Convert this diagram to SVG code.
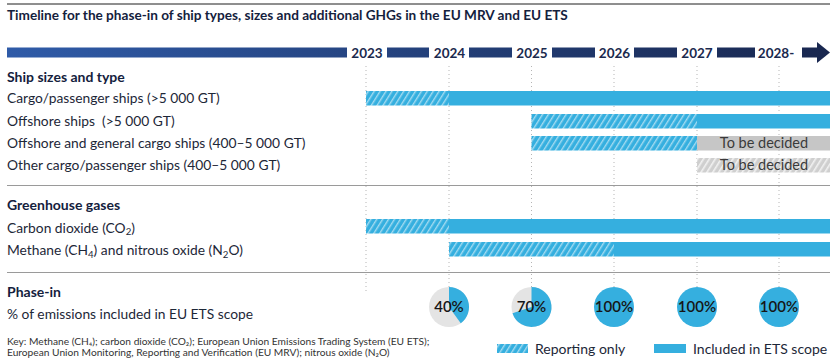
<svg xmlns="http://www.w3.org/2000/svg" width="838" height="363" viewBox="0 0 838 363">
<defs>
<linearGradient id="tl" gradientUnits="userSpaceOnUse" x1="7" y1="0" x2="830" y2="0">
<stop offset="0" stop-color="#2f5ba8"/>
<stop offset="1" stop-color="#19274f"/>
</linearGradient>
<pattern id="hb" patternUnits="userSpaceOnUse" width="5" height="10" patternTransform="rotate(32)">
<rect width="5" height="10" fill="#35afdf"/>
<rect x="0" y="0" width="1.4" height="10" fill="#ffffff" fill-opacity="0.55"/>
</pattern>
<pattern id="hg" patternUnits="userSpaceOnUse" width="5" height="10" patternTransform="rotate(32)">
<rect width="5" height="10" fill="#cfcfcf"/>
<rect x="0" y="0" width="1.6" height="10" fill="#ffffff" fill-opacity="0.7"/>
</pattern>
<style>
.t{font-family:Lato,"Liberation Sans",sans-serif;fill:#1d2738}
.h{font-family:Lato,"Liberation Sans",sans-serif;font-weight:700;fill:#14213d;font-size:14px}
.title{font-size:13.6px}
.lbl{font-size:13.8px}
.yr{font-family:Lato,"Liberation Sans",sans-serif;font-weight:700;font-size:13.5px;fill:#1b2a4e;text-anchor:middle}
.grid{stroke:#b5b5b5;stroke-width:1;stroke-dasharray:1 3}
.sep{stroke:#9a9a9a;stroke-width:1}
.solid{fill:#35afdf}
.hatch{fill:url(#hb)}
.tbd{font-family:Lato,"Liberation Sans",sans-serif;font-size:14.5px;fill:#3a3a3a;text-anchor:middle}
.pct{font-family:Lato,"Liberation Sans",sans-serif;font-size:15px;font-weight:600;fill:#161616;text-anchor:middle}
.key{font-family:Lato,"DejaVu Sans",sans-serif;font-size:10.2px;fill:#333}
.leg{font-size:14px}
.sub{font-size:70%}
</style>
</defs>

<line x1="7" y1="4" x2="830" y2="4" stroke="#1e1e1e" stroke-width="1"/>
<text class="h title" x="7" y="20">Timeline for the phase-in of ship types, sizes and additional GHGs in the EU MRV and EU ETS</text>

<g id="timeline">
<g fill="url(#tl)">
<rect x="7" y="47.5" width="340" height="10"/>
<rect x="387" y="47.5" width="42" height="10"/>
<rect x="469" y="47.5" width="43" height="10"/>
<rect x="552" y="47.5" width="43" height="10"/>
<rect x="634" y="47.5" width="43" height="10"/>
<rect x="717" y="47.5" width="38" height="10"/>
<rect x="802" y="47.5" width="16" height="10"/>
<polygon points="817,42 830,52.5 817,63"/>
</g>
<text class="yr" x="367" y="57.5">2023</text>
<text class="yr" x="449.5" y="57.5">2024</text>
<text class="yr" x="532" y="57.5">2025</text>
<text class="yr" x="614.5" y="57.5">2026</text>
<text class="yr" x="697" y="57.5">2027</text>
<text class="yr" x="776" y="57.5">2028-</text>
</g>

<g id="grid">
<line class="grid" x1="366" y1="66" x2="366" y2="294"/>
<line class="grid" x1="449" y1="66" x2="449" y2="287"/>
<line class="grid" x1="531.5" y1="66" x2="531.5" y2="287"/>
<line class="grid" x1="614" y1="66" x2="614" y2="287"/>
<line class="grid" x1="697" y1="66" x2="697" y2="287"/>
<line class="grid" x1="779" y1="66" x2="779" y2="287"/>
</g>

<g id="separators">
<line class="sep" x1="7" y1="185.5" x2="830" y2="185.5"/>
<line class="sep" x1="7" y1="272.5" x2="830" y2="272.5"/>
</g>

<g id="ship-sizes">
<text class="h" x="7" y="81.5">Ship sizes and type</text>
<g id="row-cargo-large">
<text class="t lbl" x="7" y="103.3">Cargo/passenger ships (&gt;5 000 GT)</text>
<rect class="hatch" x="366" y="91" width="83" height="14.5"/>
<rect class="solid" x="449" y="91" width="381" height="14.5"/>
</g>
<g id="row-offshore-large">
<text class="t lbl" x="7" y="125.5">Offshore ships &#160;(&gt;5 000 GT)</text>
<rect class="hatch" x="531.5" y="114" width="165.5" height="14.5"/>
<rect class="solid" x="697" y="114" width="133" height="14.5"/>
</g>
<g id="row-offshore-general">
<text class="t lbl" x="7" y="147.5">Offshore and general cargo ships (400–5 000 GT)</text>
<rect class="hatch" x="531.5" y="136" width="165.5" height="14.5"/>
<rect x="697" y="136" width="133" height="14.5" fill="#c6c6c6"/>
<text class="tbd" x="764" y="148.2">To be decided</text>
</g>
<g id="row-other">
<text class="t lbl" x="7" y="169.5">Other cargo/passenger ships (400–5 000 GT)</text>
<rect x="697" y="158" width="133" height="14.5" fill="url(#hg)"/>
<text class="tbd" x="764" y="170.2">To be decided</text>
</g>
</g>

<g id="ghg">
<text class="h" x="7" y="209.5">Greenhouse gases</text>
<g id="row-co2">
<text class="t lbl" x="7" y="232.5">Carbon dioxide (CO<tspan class="sub" dy="2.5">2</tspan><tspan dy="-2.5">)</tspan></text>
<rect class="hatch" x="366" y="219" width="83" height="14.5"/>
<rect class="solid" x="449" y="219" width="381" height="14.5"/>
</g>
<g id="row-ch4">
<text class="t lbl" x="7" y="255">Methane (CH<tspan class="sub" dy="2.5">4</tspan><tspan dy="-2.5">) and nitrous oxide (N</tspan><tspan class="sub" dy="2.5">2</tspan><tspan dy="-2.5">O)</tspan></text>
<rect class="hatch" x="449" y="242" width="165" height="14.5"/>
<rect class="solid" x="614" y="242" width="216" height="14.5"/>
</g>
</g>

<g id="phase-in">
<text class="h" x="7" y="297">Phase-in</text>
<text class="t lbl" x="7" y="318.5">% of emissions included in EU ETS scope</text>
<g id="pie-2024">
<circle cx="449" cy="307" r="20" fill="#e4e4e4"/>
<path d="M449,307 L449,287 A20,20 0 0 1 460.76,323.18 Z" fill="#35afdf"/>
<text class="pct" x="449" y="312.2">40%</text>
</g>
<g id="pie-2025">
<circle cx="531.5" cy="307" r="20" fill="#e4e4e4"/>
<path d="M531.5,307 L531.5,287 A20,20 0 1 1 512.48,313.18 Z" fill="#35afdf"/>
<text class="pct" x="531.5" y="312.2">70%</text>
</g>
<g id="pie-2026">
<circle cx="614" cy="307" r="20" fill="#35afdf"/>
<text class="pct" x="614" y="312.2">100%</text>
</g>
<g id="pie-2027">
<circle cx="697" cy="307" r="20" fill="#35afdf"/>
<text class="pct" x="697" y="312.2">100%</text>
</g>
<g id="pie-2028">
<circle cx="779" cy="307" r="20" fill="#35afdf"/>
<text class="pct" x="779" y="312.2">100%</text>
</g>
</g>

<g id="key">
<text class="key" x="7" y="344.8">Key: Methane (CH₄); carbon dioxide (CO₂); European Union Emissions Trading System (EU ETS);</text>
<text class="key" x="7" y="355.8">European Union Monitoring, Reporting and Verification (EU MRV); nitrous oxide (N₂O)</text>
</g>

<g id="legend">
<rect class="hatch" x="497" y="344" width="31" height="9"/>
<text class="t leg" x="535" y="353.5">Reporting only</text>
<rect class="solid" x="654" y="344" width="32" height="9"/>
<text class="t leg" x="693" y="353.5">Included in ETS scope</text>
</g>
</svg>
